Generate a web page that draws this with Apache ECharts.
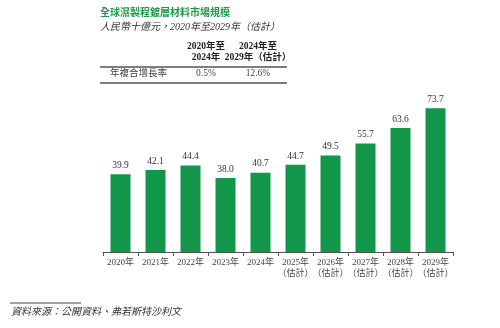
<!DOCTYPE html>
<html><head><meta charset="utf-8">
<script src="https://cdn.jsdelivr.net/npm/echarts@6/dist/echarts.min.js"></script>
<style>html,body{margin:0;padding:0;background:#fff}#c{width:500px;height:328px}</style>
</head><body><div id="c"></div>
<script>
const categories = ['2020年','2021年','2022年','2023年','2024年','2025年\n（估計）','2026年\n（估計）','2027年\n（估計）','2028年\n（估計）','2029年\n（估計）'];
const values = [39.9, 42.1, 44.4, 38.0, 40.7, 44.7, 49.5, 55.7, 63.6, 73.7];
const title = '全球濕製程鍍層材料市場規模';
const subtitle = '人民幣十億元，2020年至2029年（估計）';
const tableHeaders = [['2020年至', '2024年'], ['2024年至', '2029年（估計）']];
const tableRowLabel = '年複合增長率';
const tableRowValues = ['0.5%', '12.6%'];
const source = '資料來源：公開資料、弗若斯特沙利文';

const FONT = '"Liberation Serif","Noto Sans CJK TC",serif';
const colX = [206, 258];
const graphics = [
  {type: 'text', left: 100, top: 8, style: {text: title, fill: '#1f9a4a', font: 'bold 10px ' + FONT}},
  {type: 'text', left: 100, top: 22, style: {text: subtitle, fill: '#333', font: 'italic 10px ' + FONT}},
  {type: 'line', shape: {x1: 100, y1: 67, x2: 287, y2: 67}, style: {stroke: '#555', lineWidth: 1.5}},
  {type: 'text', x: 110, y: 69, style: {text: tableRowLabel, fill: '#444', font: '9.5px ' + FONT}},
  {type: 'line', shape: {x1: 100, y1: 83, x2: 287, y2: 83}, style: {stroke: '#555', lineWidth: 1.5}},
  {type: 'line', shape: {x1: 10, y1: 303, x2: 81, y2: 303}, style: {stroke: '#444', lineWidth: 1.2}},
  {type: 'text', x: 11, y: 307, style: {text: source, fill: '#333', font: 'italic 10px ' + FONT}}
];
tableHeaders.forEach((lines, i) => {
  lines.forEach((t, j) => graphics.push({type: 'text', x: colX[i], y: 42 + j * 11,
    style: {text: t, fill: '#222', font: 'bold 9.5px ' + FONT, align: 'center'}}));
  graphics.push({type: 'text', x: colX[i], y: 69,
    style: {text: tableRowValues[i], fill: '#444', font: '9.5px ' + FONT, align: 'center'}});
});

const chart = echarts.init(document.getElementById('c'));
chart.setOption({
  animation: false,
  grid: {left: 103, right: 47, top: 96, height: 156},
  xAxis: {
    type: 'category', data: categories,
    axisLine: {lineStyle: {color: '#555', width: 1}},
    axisTick: {show: true, length: 4, lineStyle: {color: '#555'}},
    axisLabel: {color: '#444', fontSize: 9, fontFamily: FONT, margin: 5, lineHeight: 11, interval: 0}
  },
  yAxis: {type: 'value', min: 0, max: 80, show: false, splitLine: {show: false}},
  series: [{
    type: 'bar', data: values, barWidth: 20,
    itemStyle: {color: '#12964a'},
    label: {show: true, position: 'top', distance: 4, color: '#333', fontSize: 9.5, fontFamily: FONT,
      formatter: p => p.value.toFixed(1)}
  }],
  graphic: graphics
});
</script></body></html>
